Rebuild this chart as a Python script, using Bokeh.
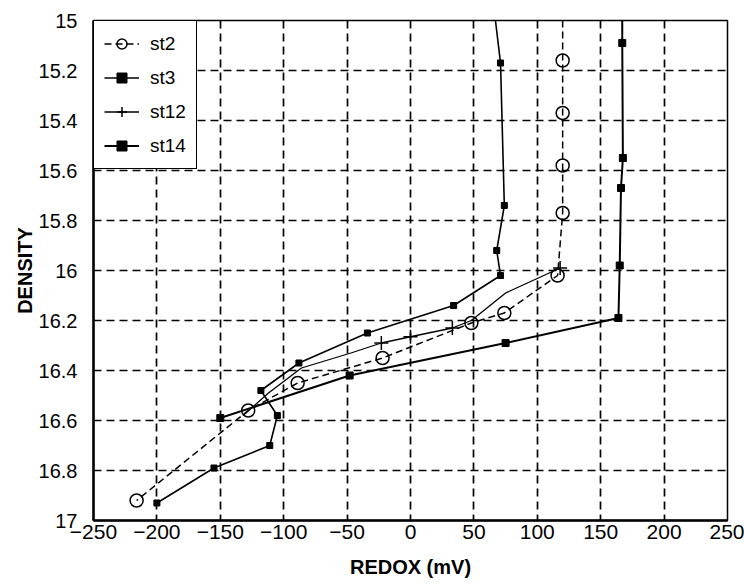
from bokeh.plotting import figure
from bokeh.models import Range1d, FixedTicker
from bokeh.embed import file_html
from bokeh.resources import INLINE

# ---- data ----
x_ticks = [-250, -200, -150, -100, -50, 0, 50, 100, 150, 200, 250]
x_tick_labels = ["\u2212250", "\u2212200", "\u2212150", "\u2212100", "\u221250", "0",
                 "50", "100", "150", "200", "250"]
y_ticks = [15, 15.2, 15.4, 15.6, 15.8, 16, 16.2, 16.4, 16.6, 16.8, 17]
y_tick_labels = ["15", "15.2", "15.4", "15.6", "15.8", "16", "16.2", "16.4", "16.6", "16.8", "17"]

st2_redox = [120, 120, 120, 120, 120, 116, 74, 48, -22, -89, -128, -216]
st2_density = [15.00, 15.16, 15.37, 15.58, 15.77, 16.02, 16.17, 16.21, 16.35, 16.45, 16.56, 16.92]

st3_redox = [67, 71, 74, 68, 71, 34, -34, -88, -118, -105, -111, -155, -200]
st3_density = [15.00, 15.17, 15.74, 15.92, 16.02, 16.14, 16.25, 16.37, 16.48, 16.58, 16.70, 16.79, 16.93]

st12_redox = [118, 75, 48, 33, 0, -23, -47, -86, -112, -132]
st12_density = [15.99, 16.09, 16.20, 16.23, 16.265, 16.29, 16.33, 16.39, 16.49, 16.58]
st12_marked = [0, 3, 4, 5]

st14_redox = [167, 167, 167.5, 166, 165, 164, 75, -48, -150]
st14_density = [15.00, 15.09, 15.55, 15.67, 15.98, 16.19, 16.29, 16.42, 16.59]

FONT = "Liberation Sans"

p = figure(width=744, height=588, output_backend="svg", toolbar_location=None,
           x_range=Range1d(-250, 250), y_range=Range1d(17, 15),
           min_border_left=93, min_border_right=17, min_border_top=20, min_border_bottom=68,
           background_fill_color="white", border_fill_color="white")

p.outline_line_color = "black"
p.outline_line_width = 1.5
p.outline_line_alpha = 1.0

p.xaxis.ticker = FixedTicker(ticks=x_ticks)
p.yaxis.ticker = FixedTicker(ticks=y_ticks)
p.xaxis.major_label_overrides = {t: l for t, l in zip(x_ticks, x_tick_labels)}
p.yaxis.major_label_overrides = {t: l for t, l in zip(y_ticks, y_tick_labels)}

for ax in (p.xaxis[0], p.yaxis[0]):
    ax.axis_line_color = "black"
    ax.axis_line_width = 2.5
    ax.major_tick_line_color = None
    ax.minor_tick_line_color = None
    ax.major_tick_out = 0
    ax.major_tick_in = 0
    ax.major_label_text_font = FONT
    ax.major_label_text_color = "black"
    ax.axis_label_text_font = FONT
    ax.axis_label_text_font_style = "bold"
    ax.axis_label_text_color = "black"
    ax.axis_label_text_font_size = "20px"

p.xaxis.major_label_text_font_size = "21px"
p.yaxis.major_label_text_font_size = "20px"
p.xaxis.major_label_standoff = 4
p.yaxis.major_label_standoff = 16
p.xaxis.axis_label = "REDOX (mV)"
p.yaxis.axis_label = "DENSITY"
p.xaxis.axis_label_standoff = 14
p.yaxis.axis_label_standoff = 0

for g in (p.xgrid[0], p.ygrid[0]):
    g.grid_line_color = "black"
    g.grid_line_width = 1.7
    g.grid_line_dash = "8 5"
    g.grid_line_alpha = 1.0

# st2: dashed line with hollow circles
p.line(st2_redox, st2_density, line_color="black", line_width=1.5, line_dash="7 4",
       legend_label="st2")
p.scatter(st2_redox[1:], st2_density[1:], marker="circle", size=13, fill_alpha=0,
          line_color="black", line_width=1.5, legend_label="st2")

# st3: solid line with small filled squares
p.line(st3_redox, st3_density, line_color="black", line_width=1.6, legend_label="st3")
p.scatter(st3_redox[1:], st3_density[1:], marker="square", size=6, fill_color="black",
          line_color="black", legend_label="st3")

# st12: thin solid line with plus markers
p.line(st12_redox, st12_density, line_color="black", line_width=1.3, legend_label="st12")
p.scatter([st12_redox[i] for i in st12_marked], [st12_density[i] for i in st12_marked],
          marker="cross", size=14, line_color="black", line_width=1.5, legend_label="st12")

# st14: solid line with filled squares
p.line(st14_redox, st14_density, line_color="black", line_width=2.0, legend_label="st14")
p.scatter(st14_redox[1:], st14_density[1:], marker="square", size=7, fill_color="black",
          line_color="black", legend_label="st14")

lg = p.legend[0]
lg.location = "top_left"
lg.margin = 0
lg.padding = 10
lg.spacing = 9
lg.glyph_height = 25
lg.glyph_width = 35
lg.label_standoff = 11
lg.label_text_font = FONT
lg.label_text_font_size = "19px"
lg.label_text_color = "black"
lg.border_line_color = "black"
lg.border_line_width = 1.5
lg.border_line_alpha = 1.0
lg.background_fill_color = "white"
lg.background_fill_alpha = 1.0

open("out.html", "w").write(file_html(p, INLINE))
